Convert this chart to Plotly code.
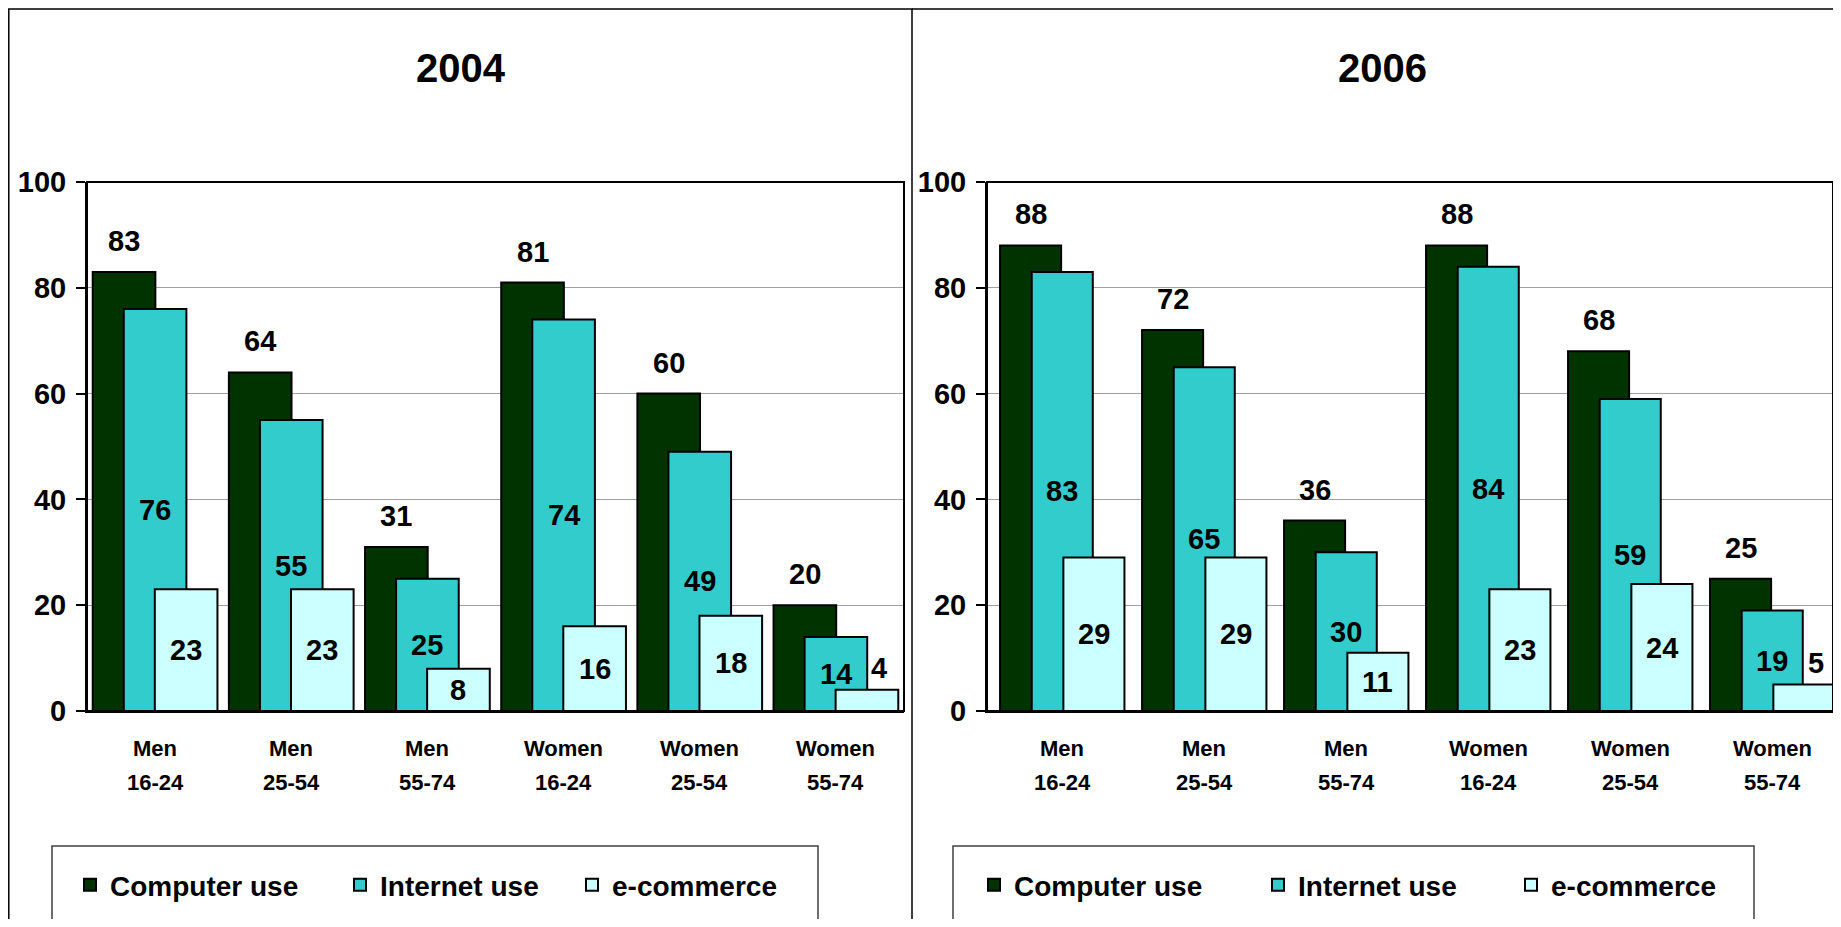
import plotly.graph_objects as go

# ---------------- data ----------------
sexes = ["Men", "Men", "Men", "Women", "Women", "Women"]
ages = ["16-24", "25-54", "55-74", "16-24", "25-54", "55-74"]
categories = [f"{s} {a}" for s, a in zip(sexes, ages)]
series_names = ["Computer use", "Internet use", "e-commerce"]
years = ["2004", "2006"]

computer_2004 = [83, 64, 31, 81, 60, 20]
internet_2004 = [76, 55, 25, 74, 49, 14]
ecommerce_2004 = [23, 23, 8, 16, 18, 4]

computer_2006 = [88, 72, 36, 88, 68, 25]
internet_2006 = [83, 65, 30, 84, 59, 19]
ecommerce_2006 = [29, 29, 11, 23, 24, 5]

y_ticks = [0, 20, 40, 60, 80, 100]

# ---------------- style ----------------
W, H = 1825, 911
FONT = "Liberation Sans, Arial, sans-serif"
colors = ["#003300", "#33CCCC", "#CCFFFF"]
PLOT_TOP, PLOT_BOTTOM = 174, 703


def fx(px):
    return px / W


def fy(px):
    return 1 - px / H


panels = [
    dict(year=years[0], values=[computer_2004, internet_2004, ecommerce_2004],
         xrange=[-0.5, 5.5], w=0.46, step=0.228,
         legends=["legend", "legend2", "legend3"], legend_x=[62, 332, 564],
         box=(44, 810), title_x=453, xaxis="x", yaxis="y"),
    dict(year=years[1], values=[computer_2006, internet_2006, ecommerce_2006],
         xrange=[-0.53, 5.428], w=0.43, step=0.223,
         legends=["legend4", "legend5", "legend6"], legend_x=[966, 1250, 1503],
         box=(945, 1746), title_x=1374, xaxis="x2", yaxis="y2"),
]

fig = go.Figure()
annotations = []
shapes = []
legend_layouts = {}

legend_common = dict(
    orientation="h", bgcolor="rgba(0,0,0,0)", borderwidth=0,
    font=dict(family=FONT, size=28, color="black", weight=700),
    xanchor="left", yanchor="middle", y=fy(877),
)

for p in panels:
    w, step = p["w"], p["step"]
    offsets = [-(w / 2 + step), -w / 2, step - w / 2]
    for s_i, (name, vals) in enumerate(zip(series_names, p["values"])):
        lg = p["legends"][s_i]
        legend_layouts[lg] = dict(legend_common, x=fx(p["legend_x"][s_i]))
        fig.add_trace(go.Bar(
            x=categories, y=vals, name=name,
            width=w, offset=offsets[s_i],
            marker=dict(color=colors[s_i], line=dict(color="black", width=2)),
            xaxis=p["xaxis"], yaxis=p["yaxis"], legend=lg,
            hoverinfo="x+y+name",
        ))
        # data labels
        for c_i, v in enumerate(vals):
            xc = c_i + offsets[s_i] + w / 2
            xshift = 0
            if s_i == 0:
                y, shift = v, 31
            elif s_i == 1:
                y, shift = v / 2, 0
            else:
                if v >= 7:
                    y, shift = v / 2, 0
                else:
                    y, shift, xshift = v, 22, 12
            annotations.append(dict(
                x=xc, y=y, xref=p["xaxis"], yref=p["yaxis"], text=str(v),
                showarrow=False, yshift=shift, xshift=xshift, yanchor="middle",
                font=dict(family=FONT, size=29, color="black", weight=700),
            ))

    # category labels (two rows)
    for c_i, (s, a) in enumerate(zip(sexes, ages)):
        annotations.append(dict(
            x=c_i, y=fy(740), xref=p["xaxis"], yref="paper", text=s,
            showarrow=False, yanchor="middle",
            font=dict(family=FONT, size=22, color="black", weight=700)))
        annotations.append(dict(
            x=c_i, y=fy(774), xref=p["xaxis"], yref="paper", text=a,
            showarrow=False, yanchor="middle",
            font=dict(family=FONT, size=22, color="black", weight=700)))

    # panel title
    annotations.append(dict(
        x=fx(p["title_x"]), y=fy(60), xref="paper", yref="paper", text=p["year"],
        showarrow=False, xanchor="center", yanchor="middle",
        font=dict(family=FONT, size=40, color="black", weight=700)))

    # plot-area frame
    xd = "x domain" if p["xaxis"] == "x" else "x2 domain"
    yd = "y domain" if p["yaxis"] == "y" else "y2 domain"
    shapes.append(dict(type="rect", xref=xd, yref=yd, x0=0, x1=1, y0=0, y1=1,
                       line=dict(color="black", width=2), layer="above"))

    # legend box
    b0, b1 = p["box"]
    shapes.append(dict(type="rect", xref="paper", yref="paper",
                       x0=fx(b0), x1=fx(b1), y0=-0.2, y1=fy(838),
                       line=dict(color="#404040", width=1.5)))

# panel frames
shapes.append(dict(type="rect", xref="paper", yref="paper",
                   x0=fx(0.8), x1=fx(904), y0=-0.2, y1=fy(1),
                   line=dict(color="black", width=1.5)))
shapes.append(dict(type="line", xref="paper", yref="paper",
                   x0=fx(904), x1=1.05, y0=fy(1), y1=fy(1),
                   line=dict(color="black", width=1.5)))

axis_common_y = dict(
    range=[0, 100], tickvals=y_ticks, ticks="outside", ticklen=9, tickwidth=1.5,
    tickcolor="black", showline=True, linecolor="black", linewidth=2,
    showgrid=True, gridcolor="#A0A0A0", gridwidth=1, zeroline=False,
    tickfont=dict(family=FONT, size=29, color="black", weight=700),
    ticklabelstandoff=4, fixedrange=True, automargin=False,
    domain=[fy(PLOT_BOTTOM), fy(PLOT_TOP)],
)
axis_common_x = dict(showticklabels=False, ticks="", showgrid=False, zeroline=False,
                     showline=True, linecolor="black", linewidth=2, fixedrange=True,
                     type="category", automargin=False)

fig.update_layout(
    width=W, height=H,
    margin=dict(l=0, r=0, t=0, b=0, autoexpand=False),
    paper_bgcolor="white", plot_bgcolor="white",
    barmode="overlay",
    showlegend=True,
    xaxis=dict(axis_common_x, domain=[fx(79), fx(896)], range=panels[0]["xrange"], anchor="y"),
    yaxis=dict(axis_common_y, anchor="x"),
    xaxis2=dict(axis_common_x, domain=[fx(979), 1.0], range=panels[1]["xrange"], anchor="y2"),
    yaxis2=dict(axis_common_y, anchor="x2"),
    annotations=annotations,
    shapes=shapes,
    **legend_layouts,
)

fig.write_html("out.html")
